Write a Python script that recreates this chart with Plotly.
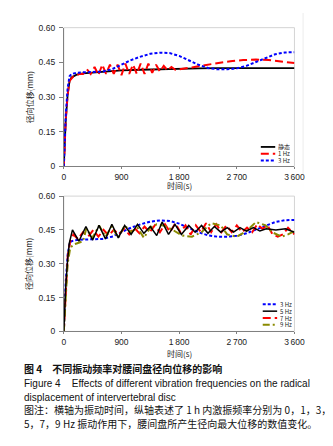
import plotly.graph_objects as go

W, H = 333, 446

# ---------------- data ----------------
# top panel
static_t = [0, 30, 60, 90, 120, 200, 300, 500, 700, 900, 1200, 1500, 1800, 2100, 2400, 2700, 3000, 3300, 3600]
static_v = [0, 0.20, 0.31, 0.37, 0.385, 0.397, 0.402, 0.407, 0.411, 0.415, 0.418, 0.421, 0.423, 0.424, 0.425,
            0.425, 0.425, 0.425, 0.425]

hz3_t = [0, 30, 60, 90, 120, 200, 300, 450, 600, 750, 900, 1050, 1200, 1350, 1500, 1650, 1800, 1950, 2100,
         2250, 2400, 2550, 2700, 2850, 3000, 3150, 3300, 3450, 3600]
hz3_v = [0, 0.22, 0.34, 0.39, 0.40, 0.405, 0.407, 0.408, 0.41, 0.42, 0.44, 0.46, 0.475, 0.487, 0.492, 0.49,
         0.478, 0.46, 0.44, 0.426, 0.42, 0.42, 0.424, 0.435, 0.452, 0.47, 0.485, 0.493, 0.494]

hz1_t = [0, 30, 60, 90, 150, 250, 300, 360, 420, 480, 540, 600, 660, 720, 780, 840, 900, 960, 1020, 1080,
         1140, 1200, 1260, 1320, 1380, 1440, 1500, 1560, 1620, 1680, 1740, 1800, 2000, 2200, 2400, 2600,
         2800, 3000, 3200, 3400, 3600]
hz1_v = [0, 0.20, 0.31, 0.37, 0.39, 0.40, 0.40, 0.42, 0.40, 0.43, 0.395, 0.44, 0.40, 0.44, 0.40, 0.44, 0.395,
         0.445, 0.40, 0.44, 0.40, 0.445, 0.40, 0.445, 0.405, 0.44, 0.41, 0.435, 0.415, 0.43, 0.418, 0.42,
         0.428, 0.438, 0.448, 0.455, 0.46, 0.462, 0.46, 0.455, 0.447]

# bottom panel
hz5_t = [0, 30, 60, 85, 135, 235, 345, 450, 550, 650, 750, 850, 950, 1050, 1150, 1250, 1350, 1450, 1535,
         1635, 1735, 1835, 1950, 2050, 2150, 2250, 2350, 2450, 2550, 2650, 2750, 2850, 2960, 3060, 3160,
         3310, 3460, 3600]
hz5_v = [0, 0.20, 0.32, 0.39, 0.45, 0.40, 0.465, 0.405, 0.47, 0.41, 0.475, 0.415, 0.47, 0.43, 0.475, 0.435,
         0.465, 0.425, 0.485, 0.43, 0.475, 0.43, 0.47, 0.44, 0.47, 0.435, 0.465, 0.44, 0.46, 0.44, 0.46,
         0.445, 0.46, 0.445, 0.455, 0.45, 0.455, 0.44]

hz7_t = [0, 30, 60, 100, 150, 220, 300, 380, 460, 540, 620, 700, 780, 860, 940, 1020, 1100, 1180, 1260,
         1340, 1420, 1500, 1580, 1660, 1740, 1820, 1900, 1980, 2060, 2140, 2220, 2300, 2380, 2460, 2540,
         2620, 2700, 2780, 2860, 2940, 3020, 3100, 3180, 3260, 3340, 3420, 3500, 3600]
hz7_v = [0, 0.20, 0.33, 0.40, 0.43, 0.41, 0.44, 0.42, 0.45, 0.42, 0.45, 0.425, 0.45, 0.43, 0.455, 0.43,
         0.46, 0.435, 0.465, 0.44, 0.47, 0.44, 0.475, 0.44, 0.48, 0.44, 0.47, 0.43, 0.47, 0.44, 0.48, 0.44,
         0.475, 0.44, 0.47, 0.44, 0.47, 0.44, 0.46, 0.44, 0.475, 0.455, 0.47, 0.43, 0.42, 0.43, 0.46, 0.43]

hz9_t = [0, 30, 60, 100, 150, 200, 300, 350, 450, 550, 650, 750, 850, 950, 1050, 1150, 1250, 1350, 1450,
         1550, 1700, 1850, 2000, 2150, 2300, 2450, 2550, 2700, 2850, 3000, 3150, 3250, 3400, 3500, 3600]
hz9_v = [0, 0.18, 0.30, 0.37, 0.385, 0.39, 0.40, 0.455, 0.415, 0.47, 0.42, 0.465, 0.415, 0.47, 0.44, 0.46,
         0.415, 0.46, 0.475, 0.47, 0.45, 0.425, 0.42, 0.44, 0.48, 0.47, 0.43, 0.42, 0.445, 0.485, 0.47,
         0.44, 0.42, 0.43, 0.445]

y_ticks = [0, 0.15, 0.30, 0.45, 0.60]
y_ticktext = ["0", "0.15", "0.30", "0.45", "0.60"]
x_ticks = [0, 900, 1800, 2700, 3600]
x_ticktext = ["0", "900", "1\u2009800", "2\u2009700", "3\u2009600"]

# ---------------- style ----------------
BLACK = "#000000"
RED = "#ff0000"
BLUE = "#0000ff"
OLIVE = "#8a8a00"
DASH_RED = "8px,4px"
DASH_BLUE = "3px,2px"
DASH_OLIVE = "7px,3px,2px,3px"
LAT = "Liberation Sans, Arial, sans-serif"
CJK = "Noto Sans CJK SC, sans-serif"

def px_x(p):
    return p / W

def px_y(p):
    return 1 - p / H

fig = go.Figure()

# top panel traces
fig.add_trace(go.Scatter(x=static_t, y=static_v, mode="lines", xaxis="x", yaxis="y",
                         line=dict(color=BLACK, width=1.8), showlegend=False))
fig.add_trace(go.Scatter(x=hz1_t, y=hz1_v, mode="lines", xaxis="x", yaxis="y",
                         line=dict(color=RED, width=2, dash=DASH_RED), showlegend=False))
fig.add_trace(go.Scatter(x=hz3_t, y=hz3_v, mode="lines", xaxis="x", yaxis="y",
                         line=dict(color=BLUE, width=2, dash=DASH_BLUE), showlegend=False))

# bottom panel traces
fig.add_trace(go.Scatter(x=hz3_t, y=hz3_v, mode="lines", xaxis="x2", yaxis="y2",
                         line=dict(color=BLUE, width=2, dash=DASH_BLUE), showlegend=False))
fig.add_trace(go.Scatter(x=hz7_t, y=hz7_v, mode="lines", xaxis="x2", yaxis="y2",
                         line=dict(color=RED, width=2, dash=DASH_RED), showlegend=False))
fig.add_trace(go.Scatter(x=hz9_t, y=hz9_v, mode="lines", xaxis="x2", yaxis="y2",
                         line=dict(color=OLIVE, width=2, dash=DASH_OLIVE), showlegend=False))
fig.add_trace(go.Scatter(x=hz5_t, y=hz5_v, mode="lines", xaxis="x2", yaxis="y2",
                         line=dict(color=BLACK, width=1.5), showlegend=False))

xdom = [px_x(56), px_x(296)]
ydom1 = [px_y(157), px_y(15)]
ydom2 = [px_y(325.7), px_y(187.3)]

axis_common = dict(showgrid=False, zeroline=False, showline=True, linecolor="#808080", linewidth=1,
                   ticks="outside", tickcolor="#808080",
                   tickfont=dict(family=LAT, size=8.5, color="#222222"))

fig.update_layout(
    width=W, height=H,
    margin=dict(l=0, r=0, t=0, b=0),
    paper_bgcolor="white", plot_bgcolor="white",
    xaxis=dict(domain=xdom, range=[0, 3600], tickvals=x_ticks, ticktext=x_ticktext, anchor="y",
               ticklen=2, **axis_common),
    yaxis=dict(domain=ydom1, range=[0, 0.6], tickvals=y_ticks, ticktext=y_ticktext, anchor="x",
               ticklen=4, ticklabelstandoff=2, **axis_common),
    xaxis2=dict(domain=xdom, range=[0, 3600], tickvals=x_ticks, ticktext=x_ticktext, anchor="y2",
                ticklen=2, **axis_common),
    yaxis2=dict(domain=ydom2, range=[0, 0.6], tickvals=y_ticks, ticktext=y_ticktext, anchor="x2",
                ticklen=4, ticklabelstandoff=2, **axis_common),
)

shapes = []
# plot-area borders (light)
for xr, yr in [("x domain", "y domain"), ("x2 domain", "y2 domain")]:
    shapes.append(dict(type="rect", xref=xr, yref=yr, x0=0, x1=1, y0=0, y1=1,
                       line=dict(color="#d4d4d4", width=1), layer="below"))
# faint chart-area border on top panel
shapes.append(dict(type="line", xref="paper", yref="paper", x0=px_x(305), x1=px_x(305),
                   y0=px_y(0), y1=px_y(165), line=dict(color="#ececec", width=1)))

annotations = []

def legend_entry(ypx, x0, x1, xt, color, dash, text, width=2):
    shapes.append(dict(type="line", xref="paper", yref="paper", x0=px_x(x0), x1=px_x(x1),
                       y0=px_y(ypx), y1=px_y(ypx), line=dict(color=color, width=width, dash=dash)))
    annotations.append(dict(text=text, xref="paper", yref="paper", x=px_x(xt), y=px_y(ypx),
                            xanchor="left", yanchor="middle", showarrow=False,
                            height=7, borderpad=0, valign="middle",
                            font=dict(family=CJK, size=6, color="#222222")))

legend_entry(137, 261, 276, 278, BLACK, "solid", "静态", 1.8)
legend_entry(144, 261, 276, 278, RED, DASH_RED, "1 Hz")
legend_entry(151, 261, 276, 278, BLUE, DASH_BLUE, "3 Hz")

legend_entry(298, 263, 278, 280, BLUE, DASH_BLUE, "3 Hz")
legend_entry(305, 263, 278, 280, BLACK, "solid", "5 Hz", 1.5)
legend_entry(312, 263, 278, 280, RED, DASH_RED, "7 Hz")
legend_entry(319, 263, 278, 280, OLIVE, DASH_OLIVE, "9 Hz")

# axis titles
for ycenter in [86, 256.5]:
    annotations.append(dict(text="径向位移(mm)", xref="paper", yref="paper", x=px_x(20), y=px_y(ycenter),
                            xanchor="center", yanchor="middle", textangle=-90, showarrow=False,
                            font=dict(family=CJK, size=8, color="#222222")))
for ycenter in [176.5, 348]:
    annotations.append(dict(text="时间(s)", xref="paper", yref="paper", x=px_x(176), y=px_y(ycenter),
                            xanchor="center", yanchor="middle", showarrow=False, borderpad=0,
                            font=dict(family=CJK, size=8, color="#222222")))

# caption
caption = [
    (364, "<b>图 4　不同振动频率对腰间盘径向位移的影响</b>", CJK),
    (379.5, "Figure 4    Effects of different vibration frequencies on the radical", LAT),
    (393, "displacement of intervertebral disc", LAT),
    (406, "图注：横轴为振动时间，纵轴表述了 1 h 内激振频率分别为 0，1，3，", CJK),
    (420, "5，7，9 Hz 振动作用下，腰间盘所产生径向最大位移的数值变化。", CJK),
]
for ypx, txt, fam in caption:
    annotations.append(dict(text=txt, xref="paper", yref="paper", x=px_x(13), y=px_y(ypx),
                            xanchor="left", yanchor="middle", showarrow=False,
                            font=dict(family=fam, size=10, color="#111111")))

fig.update_layout(shapes=shapes, annotations=annotations)
fig.write_html("out.html")
